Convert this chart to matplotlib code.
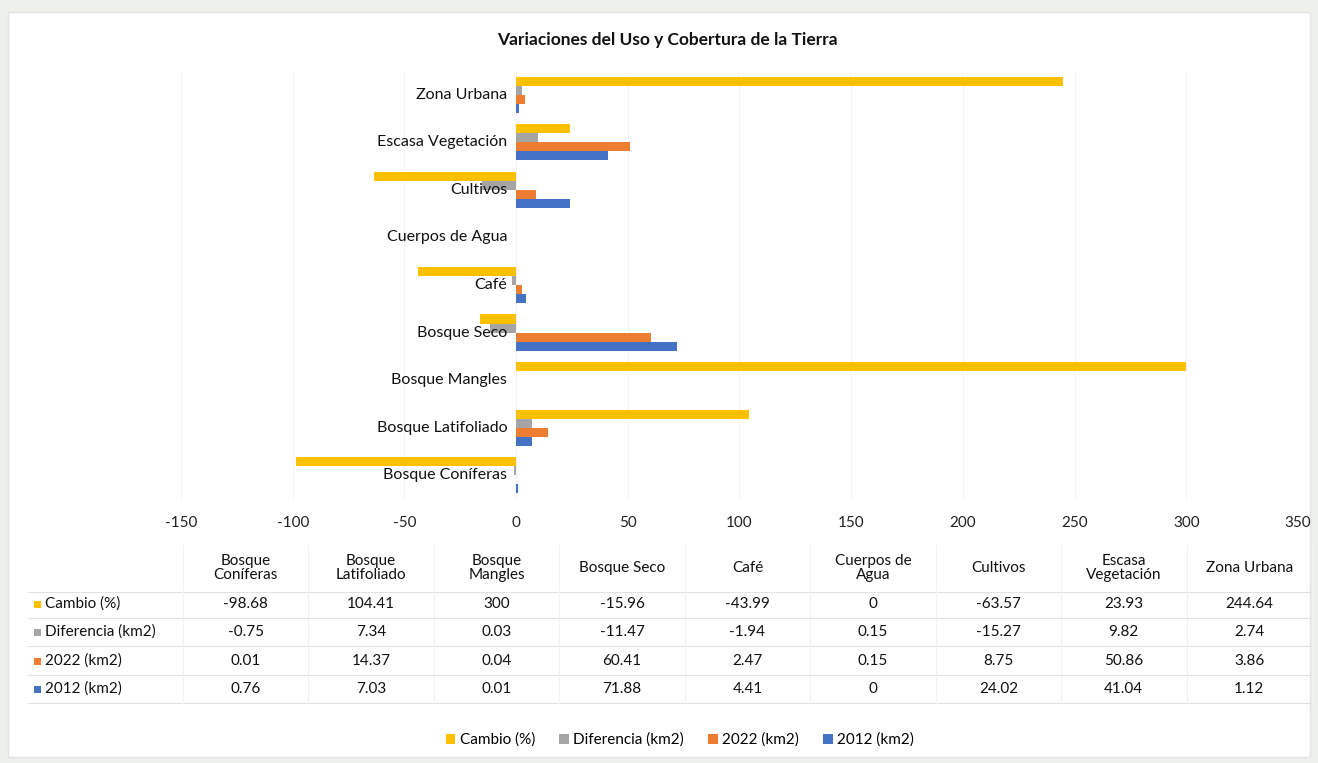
import numpy as np
import matplotlib.pyplot as plt
from matplotlib.patches import Rectangle

plt.rcParams['font.family'] = ['Lato', 'DejaVu Sans']

# datos
categorias = ["Bosque Coníferas", "Bosque Latifoliado", "Bosque Mangles", "Bosque Seco",
              "Café", "Cuerpos de Agua", "Cultivos", "Escasa Vegetación", "Zona Urbana"]
encabezados = ["Bosque\nConíferas", "Bosque\nLatifoliado", "Bosque\nMangles", "Bosque Seco",
               "Café", "Cuerpos de\nAgua", "Cultivos", "Escasa\nVegetación", "Zona Urbana"]
cambio = [-98.68, 104.41, 300, -15.96, -43.99, 0, -63.57, 23.93, 244.64]
diferencia = [-0.75, 7.34, 0.03, -11.47, -1.94, 0.15, -15.27, 9.82, 2.74]
km2_2022 = [0.01, 14.37, 0.04, 60.41, 2.47, 0.15, 8.75, 50.86, 3.86]
km2_2012 = [0.76, 7.03, 0.01, 71.88, 4.41, 0, 24.02, 41.04, 1.12]
series = ["Cambio (%)", "Diferencia (km2)", "2022 (km2)", "2012 (km2)"]
colores = ["#FFC000", "#A5A5A5", "#ED7D31", "#4472C4"]
ticks_x = [-150, -100, -50, 0, 50, 100, 150, 200, 250, 300, 350]

W, H = 1318, 763
fig = plt.figure(figsize=(W / 100, H / 100), dpi=100)
fig.patch.set_facecolor("#eef0ec")
fondo = Rectangle((8 / W, 1 - 757 / H), 1302 / W, 745 / H, transform=fig.transFigure,
                  facecolor="white", edgecolor="#e4e4e4", zorder=-10)
fig.add_artist(fondo)

x0, x1 = 181, 1298
y0, y1 = 71, 499
ax = fig.add_axes([x0 / W, 1 - y1 / H, (x1 - x0) / W, (y1 - y0) / H])
ax.set_facecolor("none")

valores = [cambio, diferencia, km2_2022, km2_2012]
y = np.arange(len(categorias))
h = 0.19
offs = [1.5 * h, 0.5 * h, -0.5 * h, -1.5 * h]
handles = []
for vals, col, off, nom in zip(valores, colores, offs, series):
    b = ax.barh(y + off, vals, height=h, color=col, label=nom, zorder=3)
    handles.append(b)

ax.set_xlim(-150, 350)
ax.set_ylim(-0.5, len(categorias) - 0.5)
ax.set_xticks(ticks_x)
ax.set_xticklabels([str(t) for t in ticks_x], fontsize=11, color="#222222")
ax.tick_params(axis="x", length=0, pad=12)
ax.set_yticks([])
for s in ax.spines.values():
    s.set_visible(False)
ax.grid(axis="x", color="#f4f4f4", linewidth=0.8, zorder=0)

# etiquetas de categoría junto al eje
for i, c in enumerate(categorias):
    ax.text(-4, i, c, ha="right", va="center", fontsize=11.5, color="#111111", zorder=4)

fig.text(667 / W, 1 - 40 / H, "Variaciones del Uso y Cobertura de la Tierra",
         ha="center", va="center", fontsize=12.5, fontweight="bold", color="#111111")

# tabla de datos
tx0, tx1 = 183, 1312
cw = (tx1 - tx0) / len(categorias)
fila_y = [604, 632, 661, 689]
head_y = 568
for j, e in enumerate(encabezados):
    cx = tx0 + cw * (j + 0.5)
    fig.text(cx / W, 1 - head_y / H, e, ha="center", va="center", fontsize=11,
             color="#111111", linespacing=1.05)
    for r, vals in enumerate(valores):
        fig.text(cx / W, 1 - fila_y[r] / H, f"{vals[j]:g}", ha="center", va="center",
                 fontsize=11, color="#111111")
for r, (nom, col) in enumerate(zip(series, colores)):
    yy = 1 - fila_y[r] / H
    fig.add_artist(Rectangle((34 / W, yy - 3.5 / H), 7 / W, 7 / H,
                             transform=fig.transFigure, facecolor=col, edgecolor="none"))
    fig.text(45 / W, yy, nom, ha="left", va="center", fontsize=11, color="#111111")

linea = "#e2e2e2"
for yl in [592, 618, 646, 675, 703]:
    fig.add_artist(plt.Line2D([28 / W, tx1 / W], [1 - yl / H, 1 - yl / H],
                              transform=fig.transFigure, color=linea, linewidth=0.8))
for j in range(len(categorias) + 1):
    xl = (tx0 + cw * j) / W
    fig.add_artist(plt.Line2D([xl, xl], [1 - 545 / H, 1 - 703 / H],
                              transform=fig.transFigure, color="#f2f2f2", linewidth=0.8))

fig.legend(handles=handles, labels=series, loc="center", bbox_to_anchor=(680 / W, 1 - 740 / H),
           ncol=4, frameon=False, fontsize=11, handlelength=0.6, handleheight=0.6,
           handletextpad=0.3, columnspacing=1.6)

fig.savefig("out.png", dpi=100)
